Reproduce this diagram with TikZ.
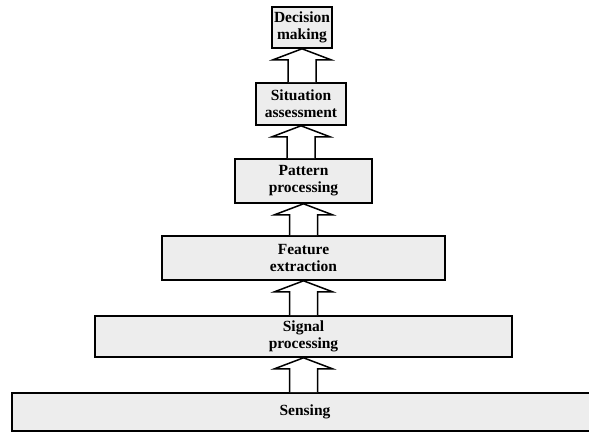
\documentclass[tikz,border=0pt]{standalone}
\usepackage{fontspec}
\setmainfont{Liberation Serif}
\usetikzlibrary{calc}

\tikzset{
  stage/.style={draw=black, line width=1.6pt, fill=black!7, inner sep=0pt,
    align=center, font=\fontsize{15.5}{17}\selectfont\bfseries},
  blockarrow/.style={draw=black, line width=1.5pt, fill=white, line join=miter}
}

% hollow block arrow rising from the top of #1 to the bottom of #2
\newcommand\liftarrow[2]{%
  \draw[blockarrow]
    ($(#2.south |- #1.north)+(-14,0)$) --
    ($(#2.south)+(-14,11)$) --
    ($(#2.south)+(-29,11)$) --
    (#2.south) --
    ($(#2.south)+(29,11)$) --
    ($(#2.south)+(14,11)$) --
    ($(#2.south |- #1.north)+(14,0)$);
}

\begin{document}
\begin{tikzpicture}[x=1pt,y=-1pt]
  \clip (0,0) rectangle (589,433);
  \fill[white] (0,0) rectangle (589,433);

  \node[stage, minimum width=60, minimum height=41] (dm) at (302,27.5) {Decision\\making};
  \node[stage, minimum width=90, minimum height=42] (sa) at (301,104) {Situation\\assessment};
  \node[stage, minimum width=137, minimum height=44] (pp) at (303.5,181) {Pattern\\processing};
  \node[stage, minimum width=283, minimum height=44] (fe) at (303.5,258) {Feature\\extraction};
  \node[stage, minimum width=417, minimum height=41] (sp) at (303.5,336.5) {Signal\\processing};
  \node[stage, minimum width=586, minimum height=38] (se) at (305,412) {Sensing};

  \liftarrow{se}{sp}
  \liftarrow{sp}{fe}
  \liftarrow{fe}{pp}
  \liftarrow{pp}{sa}
  \liftarrow{sa}{dm}
\end{tikzpicture}
\end{document}
